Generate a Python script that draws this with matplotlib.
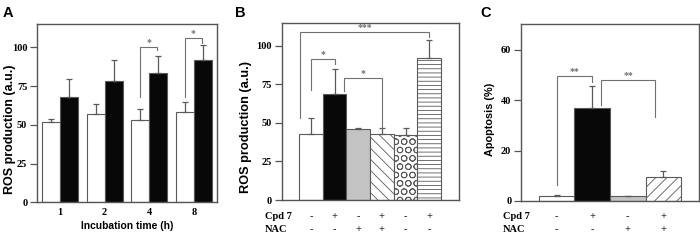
import matplotlib
matplotlib.use("Agg")
import matplotlib.pyplot as plt
import numpy as np
from matplotlib.transforms import blended_transform_factory

# ---------------- data ----------------
# Panel A
a_times = ["1", "2", "4", "8"]
a_ctrl = [52, 57, 53, 58]
a_ctrl_err = [2, 6.5, 7, 7]
a_cpd = [68, 78, 83.5, 91.5]
a_cpd_err = [11.5, 14, 11, 10]
# brackets: (group index, left-leg bottom, top, right-leg bottom, label)
a_brackets = [(2, 68, 100.5, 98, "*"), (3, 68, 106, 103, "*")]

# Panel B
b_values = [42.5, 69, 46, 42.5, 42, 92]
b_err = [10.5, 16, 0.5, 4, 5, 11.5]
b_cpd = ["-", "+", "-", "+", "-", "+"]
b_nac = ["-", "-", "+", "+", "-", "-"]
b_faces = ["white", "#080808", "#c3c3c3", "white", "white", "white"]
b_hatches = [None, None, None, "\\\\\\", "OO", "----"]
# brackets: (x left, x right, left bottom, top, right bottom, label)
b_brackets = [(-0.45, 5.0, 53, 109, 105.5, "***"),
              (0.0, 1.0, 71.5, 91.3, 88, "*"),
              (1.4, 3.0, 71, 79, 47, "*")]

# Panel C
c_values = [2, 37, 1.8, 9.5]
c_err = [0.3, 8.5, 0, 2.5]
c_cpd = ["-", "+", "-", "+"]
c_nac = ["-", "-", "+", "+"]
c_faces = ["white", "#080808", "#c3c3c3", "white"]
c_hatches = [None, None, None, "///"]
c_brackets = [(0.0, 1.0, 6.3, 49.4, 47.2, "**"),
              (1.25, 2.77, 38.2, 47.9, 33.1, "**")]

# ---------------- style ----------------
plt.rcParams["hatch.linewidth"] = 0.6
SERIF = ["Liberation Serif", "DejaVu Serif"]
SANS = ["Liberation Sans", "DejaVu Sans"]
SPINE = "#555555"
EDGE = "#5a5a5a"
BRK = "#707070"
TICKFS = 7.5

fig = plt.figure(figsize=(7, 2.5), dpi=100)


def style_axes(ax, yticks, ylim):
    for s in ax.spines.values():
        s.set_color(SPINE)
        s.set_linewidth(1.0)
    ax.set_ylim(*ylim)
    ax.set_yticks(yticks)
    ax.tick_params(axis="y", direction="out", length=5, width=0.9,
                   color=SPINE, pad=2)
    for lab in ax.get_yticklabels():
        lab.set_fontfamily(SERIF)
        lab.set_fontweight("bold")
        lab.set_fontsize(TICKFS)


def errs(ax, x, y, e):
    ax.errorbar(x, y, yerr=[np.zeros(len(e)), e], fmt="none",
                ecolor=EDGE, elinewidth=0.9, capsize=2.2, capthick=0.9)


def bracket(ax, xl, xr, yl, yt, yr, label, fs=7):
    ax.plot([xl, xl, xr, xr], [yl, yt, yt, yr], color=BRK, lw=0.8,
            solid_joinstyle="miter")
    ax.text((xl + xr) / 2, yt, label, ha="center", va="bottom",
            fontsize=fs, color=BRK, fontfamily=SERIF, fontweight="bold")


def rows(ax, xs, top, bottom, y1, y2, xlab):
    tr = blended_transform_factory(ax.transData, ax.transAxes)
    ax.text(xlab, y1, "Cpd 7", transform=ax.transAxes, fontfamily=SERIF,
            fontweight="bold", fontsize=TICKFS, ha="left", va="center")
    ax.text(xlab, y2, "NAC", transform=ax.transAxes, fontfamily=SERIF,
            fontweight="bold", fontsize=TICKFS, ha="left", va="center")
    for i in range(len(xs)):
        ax.text(xs[i], y1, top[i], transform=tr, fontfamily=SERIF,
                fontweight="bold", fontsize=TICKFS, ha="center",
                va="center", color="#333333")
        ax.text(xs[i], y2, bottom[i], transform=tr, fontfamily=SERIF,
                fontweight="bold", fontsize=TICKFS, ha="center",
                va="center", color="#333333")


# ---------------- Panel A ----------------
axA = fig.add_axes([0.0529, 0.1908, 0.2571, 0.713])
xa = np.arange(len(a_times))
w = 0.4
axA.bar(xa - w / 2, a_ctrl, w, color="white", edgecolor=EDGE, lw=0.8)
axA.bar(xa + w / 2, a_cpd, w, color="#080808", edgecolor=EDGE, lw=0.8)
errs(axA, xa - w / 2, a_ctrl, a_ctrl_err)
errs(axA, xa + w / 2, a_cpd, a_cpd_err)
for g, yl, yt, yr, lab in a_brackets:
    bracket(axA, g - 0.215, g + 0.18, yl, yt, yr, lab)
axA.set_xlim(-0.51, 3.51)
style_axes(axA, [0, 25, 50, 75, 100], (0, 115))
axA.set_xticks(xa)
axA.set_xticklabels(a_times, fontfamily=SERIF, fontweight="bold",
                    fontsize=TICKFS)
axA.tick_params(axis="x", length=0, pad=4)
axA.set_xlabel("Incubation time (h)", fontfamily=SANS, fontweight="bold",
               fontsize=7.4, labelpad=3)
axA.set_ylabel("ROS production (a.u.)", fontfamily=SANS, fontweight="bold",
               fontsize=9.0)
axA.yaxis.set_label_coords(-0.118, 0.41)
fig.text(0.004, 0.975, "A", fontfamily=SANS, fontweight="bold",
         fontsize=10.5, va="top", ha="left")

# ---------------- Panel B ----------------
axB = fig.add_axes([0.4024, 0.2, 0.2533, 0.709])
xb = np.arange(len(b_values))
for i in range(len(b_values)):
    axB.bar(xb[i], b_values[i], 1.0, color=b_faces[i], edgecolor=EDGE,
            lw=0.8, hatch=b_hatches[i])
errs(axB, xb, b_values, b_err)
for xl, xr, yl, yt, yr, lab in b_brackets:
    bracket(axB, xl, xr, yl, yt, yr, lab)
axB.set_xlim(-1.24, 6.26)
style_axes(axB, [0, 25, 50, 75, 100], (0, 115))
axB.set_xticks([])
axB.set_ylabel("ROS production (a.u.)", fontfamily=SANS, fontweight="bold",
               fontsize=9.2)
axB.yaxis.set_label_coords(-0.165, 0.41)
rows(axB, xb, b_cpd, b_nac, -0.094, -0.169, -0.094)
fig.text(0.336, 0.975, "B", fontfamily=SANS, fontweight="bold",
         fontsize=10.5, va="top", ha="left")

# ---------------- Panel C ----------------
axC = fig.add_axes([0.7443, 0.196, 0.2543, 0.7068])
xc = np.arange(len(c_values))
for i in range(len(c_values)):
    axC.bar(xc[i], c_values[i], 1.0, color=c_faces[i], edgecolor=EDGE,
            lw=0.8, hatch=c_hatches[i])
errs(axC, xc, c_values, c_err)
for xl, xr, yl, yt, yr, lab in c_brackets:
    bracket(axC, xl, xr, yl, yt, yr, lab)
axC.set_xlim(-1.0, 4.0)
style_axes(axC, [0, 20, 40, 60], (0, 70))
axC.set_xticks([])
axC.set_ylabel("Apoptosis (%)", fontfamily=SANS, fontweight="bold",
               fontsize=7.8)
axC.yaxis.set_label_coords(-0.146, 0.464)
rows(axC, xc, c_cpd, c_nac, -0.089, -0.164, -0.103)
fig.text(0.686, 0.975, "C", fontfamily=SANS, fontweight="bold",
         fontsize=10.5, va="top", ha="left")

fig.savefig("out.png", dpi=100)
